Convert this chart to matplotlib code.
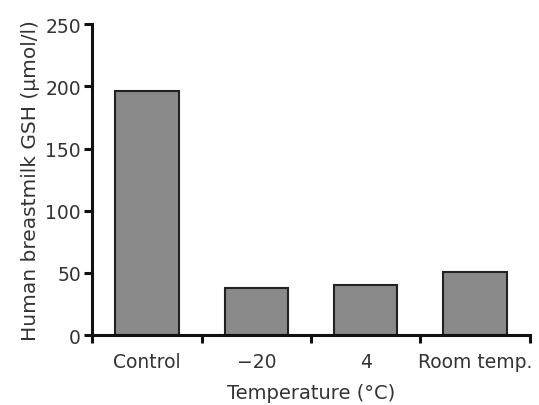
import numpy as np
import matplotlib.pyplot as plt

categories = ['Control', '\u221220', '4', 'Room temp.']
gsh_values = [196, 38, 40, 51]

plt.rcParams['font.family'] = ['DejaVu Sans']

fig = plt.figure(figsize=(5.39, 4.06), dpi=100)
ax = fig.add_axes([0.171, 0.172, 0.812, 0.766])

x = np.arange(len(categories))
ax.bar(x, gsh_values, width=0.58, color='#8a8a8a', edgecolor='#222222', linewidth=1.5)

# Spines: only left and bottom, heavy
for side in ['top', 'right']:
    ax.spines[side].set_visible(False)
for side in ['left', 'bottom']:
    ax.spines[side].set_linewidth(2.2)
    ax.spines[side].set_color('#111111')

ax.set_xlim(-0.5, len(categories) - 0.5)
ax.set_ylim(0, 250)
ax.set_yticks(np.arange(0, 251, 50))

# Tick marks at category boundaries, labels at centres
ax.set_xticks(np.arange(-0.5, len(categories), 1.0))
ax.set_xticklabels([])
ax.set_xticks(x, minor=True)
ax.set_xticklabels(categories, minor=True)
ax.tick_params(axis='x', which='minor', length=0, pad=12, labelsize=13.5, colors='#333333')
ax.tick_params(axis='x', which='major', length=6, width=2.2, direction='out', color='#111111')
ax.tick_params(axis='y', length=6, width=2.2, direction='out', labelsize=13.5,
               color='#111111', labelcolor='#333333', pad=2)

ax.set_xlabel('Temperature (\u00b0C)', fontsize=14, color='#333333', labelpad=9)
ax.set_ylabel('Human breastmilk GSH (\u00b5mol/l)', fontsize=14.5, color='#333333', labelpad=4)

fig.savefig('out.png', dpi=100)
